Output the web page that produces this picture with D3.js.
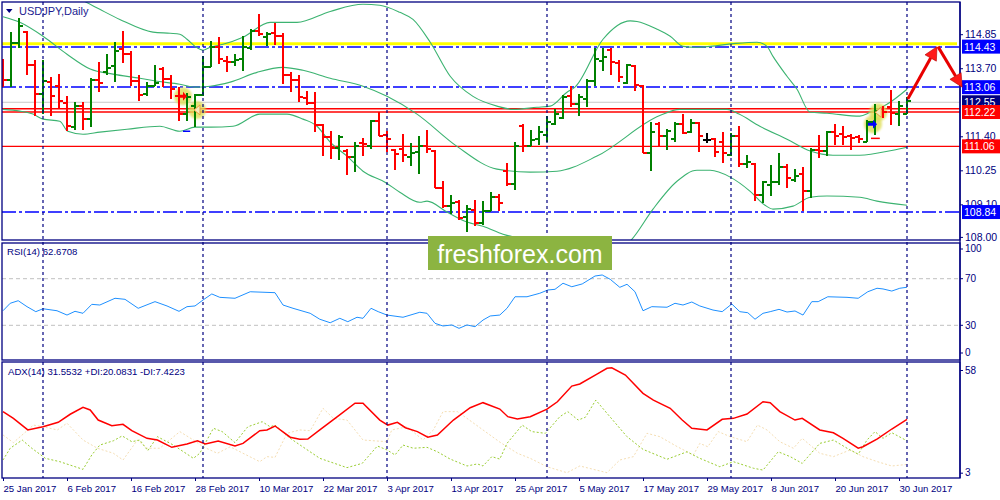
<!DOCTYPE html>
<html><head><meta charset="utf-8">
<script src="https://cdn.jsdelivr.net/npm/d3@7"></script>
<style>
body{margin:0;background:#fff}
svg{display:block}
text{font-family:"Liberation Sans",Arial,sans-serif}
</style>
</head><body>
<svg id="c" width="1000" height="500"></svg>
<script>
// ---------------- DATA ----------------
const dateLabels = ["25 Jan 2017","6 Feb 2017","16 Feb 2017","28 Feb 2017","10 Mar 2017","22 Mar 2017","3 Apr 2017","13 Apr 2017","25 Apr 2017","5 May 2017","17 May 2017","29 May 2017","8 Jun 2017","20 Jun 2017","30 Jun 2017"];
const dateLabelIdx = [0,8,16,24,32,40,48,56,64,72,80,88,96,104,112];
const monthStartIdx = [5,25,48,68,91,113];

const open = [113.94,113.29,114.54,114.92,113.80,112.82,113.23,113.09,112.52,111.71,
112.42,111.98,113.29,113.56,113.77,114.34,114.17,113.26,112.82,113.09,
113.67,113.33,112.75,112.15,112.42,112.79,113.73,114.41,113.94,113.90,
114.00,114.37,114.95,114.75,114.88,114.78,113.46,113.29,112.69,112.52,
111.77,111.37,111.00,110.90,110.69,111.17,111.06,111.91,111.44,110.93,
110.96,110.69,110.86,111.06,110.90,109.65,109.04,109.17,108.67,108.90,
108.46,108.87,109.34,110.22,109.78,111.74,111.06,111.30,111.44,111.81,
112.01,112.75,112.48,112.65,113.26,113.94,114.31,113.87,113.19,113.77,
113.09,110.83,111.81,111.40,111.30,111.81,111.54,111.84,111.27,111.30,
111.20,110.76,111.40,110.46,110.46,109.41,109.75,109.85,110.36,109.92,
110.12,109.54,110.93,110.90,111.54,111.47,111.40,111.37,111.20,111.88,
112.31,112.38,112.15,112.15];
const high = [114.00,114.92,115.39,114.95,113.97,113.97,113.40,113.50,112.75,112.55,
112.55,113.36,113.90,114.17,114.58,114.95,114.27,113.46,113.23,113.80,
113.73,113.46,113.06,112.85,112.82,114.10,114.61,114.75,114.10,114.17,
114.78,115.02,115.52,114.92,115.22,114.88,113.56,113.46,112.92,112.89,
111.81,111.57,111.44,110.96,111.20,111.33,111.94,112.21,111.57,110.96,
111.47,111.17,111.40,111.61,110.93,109.88,109.41,109.24,109.07,109.24,
109.21,109.51,109.44,110.49,111.20,111.81,111.61,111.74,112.08,112.31,
112.79,113.09,112.82,113.33,114.37,114.37,114.37,113.97,113.83,113.80,
113.12,111.88,111.88,111.64,111.88,112.15,111.98,111.88,111.50,111.33,
111.54,111.50,111.74,110.76,110.49,109.88,110.42,110.83,110.46,110.29,
110.36,111.00,111.44,111.57,111.81,111.74,111.47,111.44,111.94,112.48,
112.42,112.96,112.58,112.72];
const low = [113.06,113.06,114.37,113.46,112.08,112.15,112.08,112.35,111.57,111.61,
111.61,111.71,112.89,113.46,113.23,113.87,113.09,112.58,112.75,113.09,
113.06,112.65,111.91,111.91,111.71,112.75,113.73,113.83,113.56,113.77,
113.60,114.31,114.78,114.44,114.48,113.16,112.89,112.55,112.45,111.54,
110.73,110.63,110.59,110.08,110.19,110.73,110.96,111.40,110.86,110.25,
110.52,110.39,110.12,110.83,109.65,108.97,108.77,108.57,108.16,108.36,
108.40,108.87,108.87,109.71,109.58,110.86,111.06,111.10,111.20,111.77,
111.98,112.38,112.08,112.38,113.09,113.60,113.46,113.23,113.16,112.92,
110.83,110.22,111.06,110.93,111.20,111.47,111.50,110.86,111.17,110.69,
110.49,110.73,110.36,110.32,109.21,109.14,109.38,109.75,109.65,109.85,
108.87,109.31,110.66,110.73,111.10,111.10,110.93,111.17,111.20,111.44,
112.01,111.77,111.74,112.15];
const close = [113.29,114.54,115.12,113.80,112.82,113.26,112.75,112.58,111.74,112.42,
111.98,113.29,113.20,113.70,114.27,114.17,113.26,112.79,113.09,113.19,
113.33,112.99,112.15,112.72,112.79,113.73,114.41,114.00,113.90,113.97,
114.41,114.95,114.85,114.85,114.78,113.46,113.29,112.72,112.52,111.77,
111.37,111.00,111.37,110.69,111.06,111.13,111.91,111.40,111.30,110.79,
110.76,110.83,111.06,110.96,109.65,109.04,109.14,108.63,108.94,108.46,
108.87,109.34,109.14,109.78,111.06,111.06,111.27,111.54,111.88,112.15,
112.72,112.48,112.72,113.26,114.00,114.07,113.90,113.40,113.80,113.12,
110.83,111.54,111.40,111.57,111.81,111.50,111.84,111.40,111.27,110.86,
110.83,111.40,110.46,110.52,109.41,109.85,109.85,110.36,109.98,110.05,
109.54,110.93,110.90,111.54,111.40,111.37,111.33,111.30,111.88,112.25,
112.21,112.18,112.42,112.58];

// Bollinger bands (read at sample bars)
const bbUpperIdx = [0,5,10.4,12.1,14.6,18.75,20.9,22.1,23,24,25,25.9,27.5,30,33.4,36.75,40.9,45,47.1,49.6,51.25,53.4,55.9,58.75,61.75,63.75,66.75,68.4,70.5,71.5,75,78.4,79.25,81.75,83.4,85,86.75,88.4,91.6,94.25,95.5,96.25,98,99.25,100.9,103,107.1,108.4,110.5,113];
const bbUpperVal = [117.2,116.6,115.93,115.69,115.35,114.92,114.88,114.85,114.68,114.44,114.31,114.41,114.51,114.75,115.25,115.25,115.62,115.86,115.83,115.59,115.35,114.58,113.43,112.75,112.42,112.31,112.38,112.42,112.89,113.06,114.68,115.30,115.28,115.02,114.78,114.44,114.41,114.44,114.54,114.58,114.44,114.10,113.43,112.99,112.21,112.18,112.08,112.21,112.48,112.99];
const bbMidIdx = [0,2.1,5,8,10.9,13.75,17.1,19.25,22.1,24,25.9,28.4,31.75,35,37.5,40.9,45,48,51.75,56.75,61.75,65.9,69.25,74.25,82.1,84.6,90.5,92,94.6,98,100.9,103.75,107.1,111.25,113];
const bbMidVal = [115.44,115.25,114.78,114.17,113.67,113.50,113.36,113.26,113.16,113.06,113.09,113.23,113.56,113.73,113.63,113.36,113.09,112.75,112.15,111.06,110.29,110.19,110.22,110.73,112.10,112.31,112.31,112.15,111.74,111.30,110.90,110.76,110.76,110.93,111.03];
const bbLowerIdx = [0,2.1,3.75,5,7.1,8.1,10,12.1,15.5,19.6,22.1,24,26,28.75,32.1,35.5,37.5,39.25,40.9,43,45,47.75,49.6,52.1,53,55.5,58,60,62.5,65,68,72,75,78.6,81.25,84.25,86.75,88.4,90.9,93.4,95.25,96.25,98.75,100.9,103,107.1,109.25,113];
const bbLowerVal = [112.31,112.25,112.15,111.98,111.91,111.57,111.47,111.54,111.64,111.74,111.57,111.71,111.71,111.74,112.15,112.15,111.98,111.74,111.20,110.73,110.22,109.85,109.51,109.17,109.21,108.84,108.50,108.36,108.09,107.92,107.58,107.25,107.31,107.92,108.94,109.88,110.25,110.25,110.02,109.54,109.07,108.94,109.04,109.34,109.38,109.34,109.21,109.07];

// RSI(14)
const rsiIdx = [0,0.9,1.9,3,4.1,5,6.75,8,9,10,11.1,12.1,14,15.25,16.9,19,20.5,22,23,24,25,26.1,27.1,29,30.9,34,35,36.25,38.4,39.6,40.9,42.1,43.1,44.25,45,46,46.9,48,50,52.1,53,54,55,56.1,57,58,59,60,60.9,62.1,63,64,65.5,67.1,68.1,69,70,71.1,72.4,74,74.9,75.9,77.1,78,79,80,81.1,83,84,85,86.1,87.1,88.75,89.9,91.1,92.1,93.1,94,95,95.9,97,98,99,100,101.1,101.9,103.1,105.5,106.9,108.1,109.25,110,111.1,112.1,113];
const rsiVal = [42.5,48.9,51.1,46.0,41.7,44.2,42.5,38.8,42.0,40.3,48.0,47.4,53.2,52.3,44.6,50.3,46.6,42.0,46.0,46.6,51.7,56.9,54.0,53.2,58.8,58.0,47.4,44.6,40.3,35.2,32.2,36.0,33.1,36.9,36.0,44.6,41.7,38.8,36.9,41.2,40.3,31.7,29.4,30.3,27.4,30.3,28.8,34.5,38.0,38.8,44.6,54.5,54.5,57.5,60.3,60.9,66.1,63.1,65.5,72.3,73.2,69.5,62.6,65.2,58.8,42.5,46.0,45.5,48.9,47.4,50.0,46.6,43.1,41.7,48.3,41.7,40.8,35.2,40.3,41.7,43.7,41.4,42.3,38.8,50.3,50.3,54.5,54.0,53.2,58.8,61.8,61.2,59.4,61.8,62.67];
const rsiLevels = [70,30];
const rsiAxisTicks = [100,70,30,0];

// ADX(14)
const adxIdx = [0,1.3,3.1,5,6.9,8.4,10,10.9,11.9,13.6,15,16.1,18,19.3,21.1,23,24.3,25.3,26.9,29,30,32.1,33,34,35.9,37.1,38.1,39.6,41.8,44,45,47.1,48.1,49.3,50.3,51.8,53.1,54.3,56.3,58.4,60,62.1,63.1,64.3,65.9,68,69.3,71.1,72.1,74.3,75.5,76.1,77.8,80,81.3,83.4,84.9,86.1,88,89.9,91.3,93,95,95.9,97.1,99,99.9,102.1,103.8,105,106.9,107.5,109.3,111.1,113];
const adxVal = [35.7,32.1,25.9,27.6,30.0,34.3,38.0,36.6,31.2,28.2,28.9,25.5,21.4,20.5,16.6,18.4,20.1,18.4,20.0,17.3,18.7,25.5,25.9,28.0,22.0,20.9,21.0,25.9,33.0,40.2,40.2,31.2,28.5,30.0,27.1,25.0,22.0,23.2,31.2,37.8,40.5,37.1,33.0,31.8,33.0,37.0,41.0,49.4,50.5,55.9,58.9,59.2,55.3,45.5,41.9,37.5,31.2,26.8,25.9,31.6,32.1,34.4,41.0,40.5,35.7,31.2,32.1,25.9,24.4,21.4,16.1,16.9,21.1,26.4,31.55];
const pdiIdx = [0,0.9,2.4,3.6,5.3,7.1,10,11.1,12.1,13.8,14.9,16.1,17.1,18.1,19.3,21.3,23.8,24.6,26.3,27.4,29,30.6,32.4,33.4,34,35.9,39.6,43,44.9,46.8,48,49,50,51.3,53,54.3,55.9,58,59.3,60,61.1,62.1,63,64.9,66.1,67.8,69.6,70.6,71.9,72.8,74.1,75.5,78,80,83,85.5,87.1,89.6,91.3,93.8,95,96.9,98.4,99.9,102.1,103.8,105.5,106.9,108,109,110,111.1,113];
const pdiVal = [9.8,16.1,20.5,16.1,10.7,8.9,4.8,12.5,17.8,20.1,22.7,19.6,20.5,14.8,22.3,17.8,10.7,13.4,26.8,25.0,19.1,27.6,30.3,27.6,28.5,21.4,10.7,5.7,8.0,17.3,15.2,12.5,17.8,16.1,16.6,14.2,10.3,6.6,7.7,6.6,11.6,10.3,18.7,28.5,25.0,24.1,33.0,35.7,31.2,32.7,41.9,34.8,22.3,15.5,10.2,14.2,10.7,6.2,8.9,5.4,4.4,14.2,11.6,8.0,18.7,20.5,16.1,12.9,20.5,25.0,21.4,24.4,20.08];
const mdiIdx = [0,1.3,3.8,5,6.8,8,10,11.8,13.8,15,16.8,18,19.6,22.1,23.8,25,26.8,28.4,30,32.1,33,34,35.5,37.1,38.4,40,41.3,43,45,48,48.6,50.5,52.5,53.8,55,56.8,58,60,62.1,64.3,65.9,68,70.5,72.1,73.8,75.5,77.1,78.8,80.5,82.1,84.3,86.3,87.1,88.1,89.4,90.9,93,94.3,95.5,97.1,98.8,99.9,102.1,103.8,105.9,107.5,109.3,111.1,113];
const mdiVal = [23.2,19.1,28.5,27.6,25.9,29.5,20.5,16.1,13.4,9.8,20.5,16.1,16.1,25.0,20.5,16.9,13.4,16.9,13.4,8.9,11.6,11.2,24.1,25.9,25.5,37.5,32.1,31.2,20.5,19.6,25.9,27.6,20.5,25.9,35.7,35.7,32.1,25.9,19.4,13.4,10.7,6.2,3.0,6.6,4.8,3.0,9.8,11.6,24.1,22.3,16.9,12.5,18.7,16.9,25.0,22.3,19.6,28.5,25.9,19.6,16.1,21.4,13.4,11.6,15.2,11.6,8.9,6.6,7.42];
const adxAxisTicks = [58,3];

// Price axis & levels (112.55 is shown by the bid tag)
const priceTicks = [108.00,109.10,110.25,111.40,113.70,114.85];
const yellowLevel = 114.53;
const blueLevels = [114.43,113.06,108.84];
const redLevels = [112.33,112.22,111.06];
const bidLevel = 112.55;
const tagValues = [114.43,113.06,112.55,112.22,111.06,108.84];
const tagKinds = ["blue","blue","navy","red","red","blue"];
// forecast arrow path (bar index, price)
const arrowIdx = [113.1,116.75,119.9];
const arrowPrice = [112.66,114.43,113.06];
// trade markers (bar index, price)
const markIdx = [22.5,24.25,108.75,109.4];
const markPrice = [112.75,112.29,111.81,112.21];
const markType = ["redArrow","tri","blueArrow","tri"];

// --------------- CHART ---------------
const NAVY = "#000080";
const L = 2, R = 960;
const MT = 2, MB = 240, RT = 243, RB = 360, AT = 362, AB = 478;
const svg = d3.select("#c");
svg.append("rect").attr("width",1000).attr("height",500).attr("fill","#fff");

const x = d3.scaleLinear().domain([0,113]).range([3,907]);
const y = d3.scaleLinear().domain([108,114.85]).range([236.9,34.2]);
const yR = d3.scaleLinear().domain([30,70]).range([325.3,278.7]);
const yA = d3.scaleLinear().domain([3,58]).range([472.7,370]);

const defs = svg.append("defs");
function clip(id,y0,y1){defs.append("clipPath").attr("id",id).append("rect").attr("x",L).attr("y",y0).attr("width",R-L).attr("height",y1-y0);}
clip("cm",MT,MB); clip("cr",RT,RB); clip("ca",AT,AB);
const blur = defs.append("filter").attr("id","bl").attr("x","-50%").attr("y","-50%").attr("width","200%").attr("height","200%");
blur.append("feGaussianBlur").attr("stdDeviation",1.6);
const blur2 = defs.append("filter").attr("id","bl2").attr("x","-50%").attr("y","-50%").attr("width","200%").attr("height","200%");
blur2.append("feGaussianBlur").attr("stdDeviation",0.8);

const gMain = svg.append("g").attr("clip-path","url(#cm)");
const gRsi = svg.append("g").attr("clip-path","url(#cr)");
const gAdx = svg.append("g").attr("clip-path","url(#ca)");

// RSI levels
rsiLevels.forEach(v=>{
  gRsi.append("line").attr("x1",L).attr("x2",R).attr("y1",yR(v)).attr("y2",yR(v))
    .attr("stroke","#c0c0c0").attr("stroke-dasharray","4,3");
});

// period separators
monthStartIdx.forEach(i=>{
  svg.append("line").attr("x1",x(i)).attr("x2",x(i)).attr("y1",MT).attr("y2",AB)
    .attr("stroke",NAVY).attr("stroke-width",1.2).attr("stroke-dasharray","3,3");
});

// yellow level with soft shadow
gMain.append("line").attr("x1",L).attr("x2",957).attr("y1",y(yellowLevel)+3).attr("y2",y(yellowLevel)+3)
  .attr("stroke","#bdbdbd").attr("stroke-width",4).attr("opacity",0.6).attr("filter","url(#bl)");
gMain.append("line").attr("x1",L).attr("x2",957).attr("y1",y(yellowLevel)).attr("y2",y(yellowLevel))
  .attr("stroke","#ffff00").attr("stroke-width",3);
// bid line
gMain.append("line").attr("x1",L).attr("x2",R).attr("y1",y(bidLevel)).attr("y2",y(bidLevel))
  .attr("stroke","#c8c8c8").attr("stroke-width",1);
// blue dash-dot levels
blueLevels.forEach(v=>{
  gMain.append("line").attr("x1",L).attr("x2",R).attr("y1",Math.round(y(v))).attr("y2",Math.round(y(v)))
    .attr("stroke","#0000ff").attr("stroke-width",1.3).attr("stroke-dasharray","14,3,3,3");
});
// red levels
redLevels.forEach(v=>{
  gMain.append("line").attr("x1",L).attr("x2",R).attr("y1",y(v)).attr("y2",y(v))
    .attr("stroke","#ff0000").attr("stroke-width",1.4);
});

// Bollinger bands
const bandLine = d3.line().x(d=>x(d[0])).y(d=>y(d[1])).curve(d3.curveMonotoneX);
[[bbUpperIdx,bbUpperVal],[bbMidIdx,bbMidVal],[bbLowerIdx,bbLowerVal]].forEach(([a,b])=>{
  gMain.append("path").attr("d",bandLine(d3.zip(a,b))).attr("fill","none")
    .attr("stroke","#3cb371").attr("stroke-width",1.1);
});

// trade marker halos (under bars)
markIdx.forEach((mi,k)=>{
  gMain.append("circle").attr("cx",x(mi)).attr("cy",y(markPrice[k])).attr("r",9)
    .attr("fill","#dede55").attr("opacity",0.8).attr("filter","url(#bl2)");
});

// OHLC bars
const bars = d3.range(open.length).map(i=>({i,o:open[i],h:high[i],l:low[i],c:close[i]}));
const bg = gMain.append("g").attr("shape-rendering","crispEdges");
const col = d=> d.c>d.o ? "#008000" : (d.c<d.o ? "#ff0000" : "#000000");
const bsel = bg.selectAll("g.bar").data(bars).join("g").attr("class","bar").attr("stroke",col).attr("stroke-width",2);
bsel.append("line").attr("x1",d=>x(d.i)).attr("x2",d=>x(d.i)).attr("y1",d=>y(d.h)).attr("y2",d=>y(d.l));
bsel.append("line").attr("x1",d=>x(d.i)-4).attr("x2",d=>x(d.i)).attr("y1",d=>Math.round(y(d.o))).attr("y2",d=>Math.round(y(d.o)));
bsel.append("line").attr("x1",d=>x(d.i)).attr("x2",d=>x(d.i)+4).attr("y1",d=>Math.round(y(d.c))).attr("y2",d=>Math.round(y(d.c)));

// trade marker symbols
markIdx.forEach((mi,k)=>{
  const cx = x(mi), cy = y(markPrice[k]);
  const t = markType[k];
  if(t==="redArrow"){
    gMain.append("path").attr("d",`M${cx-5},${cy-1.5}h5v-3l4,4.5l-4,4.5v-3h-5z`).attr("fill","#ff0000");
  } else if(t==="blueArrow"){
    gMain.append("path").attr("d",`M${cx-5},${cy-1.5}h5v-3l4,4.5l-4,4.5v-3h-5z`).attr("fill","#0000ff");
  } else {
    gMain.append("path").attr("d",`M${cx+3},${cy-5}L${cx-3},${cy}L${cx+3},${cy+5}Z`).attr("fill","#f6eab8").attr("stroke","#e8a040").attr("stroke-width",1);
  }
});
gMain.append("line").attr("x1",x(22.5)).attr("x2",x(23.4)).attr("y1",y(111.57)).attr("y2",y(111.57)).attr("stroke","#0000ff").attr("stroke-width",1.5);
gMain.append("line").attr("x1",x(108.5)).attr("x2",x(109.6)).attr("y1",y(111.33)).attr("y2",y(111.33)).attr("stroke","#ff0000").attr("stroke-width",1.5);

// RSI line
gRsi.append("path").attr("d",d3.line().x(d=>x(d[0])).y(d=>yR(d[1]))(d3.zip(rsiIdx,rsiVal)))
  .attr("fill","none").attr("stroke","#1e90ff").attr("stroke-width",1);

// ADX lines
const aLine = d3.line().x(d=>x(d[0])).y(d=>yA(d[1]));
gAdx.append("path").attr("d",aLine(d3.zip(mdiIdx,mdiVal))).attr("fill","none").attr("stroke","#f5deb3").attr("stroke-width",1).attr("stroke-dasharray","2,2");
gAdx.append("path").attr("d",aLine(d3.zip(pdiIdx,pdiVal))).attr("fill","none").attr("stroke","#9acd32").attr("stroke-width",1).attr("stroke-dasharray","2,2");
gAdx.append("path").attr("d",aLine(d3.zip(adxIdx,adxVal))).attr("fill","none").attr("stroke","#ff0000").attr("stroke-width",1.5);

// Panel frames
[[MT,MB],[RT,RB],[AT,AB]].forEach(([a,b])=>{
  svg.append("rect").attr("x",L).attr("y",a).attr("width",R-L).attr("height",b-a)
    .attr("fill","none").attr("stroke",NAVY).attr("stroke-width",1.3);
});

// Axes
function styleAxis(g){
  g.select(".domain").remove();
  g.selectAll(".tick line").attr("stroke",NAVY);
  g.selectAll(".tick text").attr("fill",NAVY).attr("font-family","Liberation Sans, Arial, sans-serif");
}
const pAx = svg.append("g").attr("transform",`translate(${R},0)`)
  .call(d3.axisRight(y).tickValues(priceTicks).tickSize(3).tickPadding(2).tickFormat(d=>d.toFixed(2)));
styleAxis(pAx); pAx.selectAll(".tick text").attr("font-size",10.5);

const rAx = svg.append("g").attr("transform",`translate(${R},0)`)
  .call(d3.axisRight(yR).tickValues(rsiAxisTicks).tickSize(3).tickPadding(2));
styleAxis(rAx);
rAx.selectAll(".tick").attr("transform",d=>`translate(0,${Math.max(RT+6,Math.min(RB-7,yR(d)))})`);
rAx.selectAll(".tick text").attr("font-size",10);

const aAx = svg.append("g").attr("transform",`translate(${R},0)`)
  .call(d3.axisRight(yA).tickValues(adxAxisTicks).tickSize(3).tickPadding(2));
styleAxis(aAx); aAx.selectAll(".tick text").attr("font-size",10);

const xAx = svg.append("g").attr("transform",`translate(0,${AB})`)
  .call(d3.axisBottom(x).tickValues(dateLabelIdx).tickSize(3).tickPadding(4)
    .tickFormat((d,i)=>dateLabels[i]));
styleAxis(xAx);
xAx.selectAll(".tick text").attr("text-anchor","start").attr("font-size",9.6).attr("x",0);

// Right axis line
svg.append("line").attr("x1",R).attr("x2",R).attr("y1",MT).attr("y2",AB).attr("stroke",NAVY).attr("stroke-width",1.3);

// Price tags
const tagCol = {blue:"#0000ff",navy:"#000080",red:"#ff0000"};
tagValues.forEach((v,k)=>{
  const cy = y(v);
  svg.append("rect").attr("x",962).attr("y",cy-7).attr("width",38).attr("height",14).attr("fill",tagCol[tagKinds[k]]);
  svg.append("text").attr("x",964).attr("y",cy+4).attr("fill","#fff").attr("font-size",10.5).text(v.toFixed(2));
});

// Forecast arrows
function arrow(x1,y1,x2,y2){
  const ang = Math.atan2(y2-y1,x2-x1), hl=13, hw=6.5;
  const bx = x2-hl*Math.cos(ang), by = y2-hl*Math.sin(ang);
  svg.append("line").attr("x1",x1).attr("y1",y1).attr("x2",bx).attr("y2",by)
    .attr("stroke","#e80000").attr("stroke-width",3);
  const px = -Math.sin(ang)*hw, py = Math.cos(ang)*hw;
  svg.append("path").attr("d",`M${x2},${y2}L${bx+px},${by+py}L${bx-px},${by-py}Z`)
    .attr("fill","#ff1a1a").attr("stroke","#b00000").attr("stroke-width",0.6);
}
arrow(x(arrowIdx[0]),y(arrowPrice[0]),x(arrowIdx[1]),y(arrowPrice[1]));
arrow(x(arrowIdx[1])+1,y(arrowPrice[1]),x(arrowIdx[2]),y(arrowPrice[2]));

// Titles
svg.append("path").attr("d","M6,9L12.5,9L9.25,13Z").attr("fill",NAVY);
svg.append("text").attr("x",19).attr("y",15).attr("font-size",11).attr("fill","#1a1a90").text("USDJPY,Daily");
svg.append("text").attr("x",7).attr("y",255).attr("font-size",9.6).attr("fill",NAVY).text("RSI(14) 62.6708");
svg.append("text").attr("x",8).attr("y",375).attr("font-size",9.6).attr("fill",NAVY).text("ADX(14) 31.5532 +DI:20.0831 -DI:7.4223");

// Watermark
svg.append("rect").attr("x",428).attr("y",236).attr("width",184).attr("height",34).attr("fill","#8cb441");
svg.append("text").attr("x",520).attr("y",263).attr("text-anchor","middle").attr("font-size",25)
  .attr("font-family","Open Sans, sans-serif").attr("fill","#fff").text("freshforex.com");
</script>
</body></html>
